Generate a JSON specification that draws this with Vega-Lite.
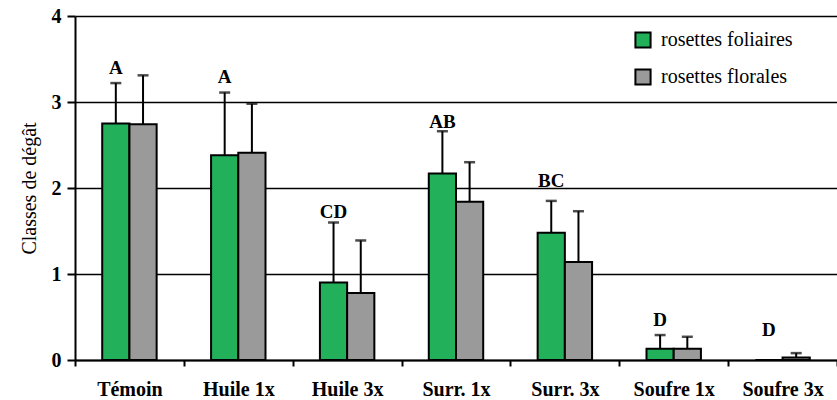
{
  "$schema": "https://vega.github.io/schema/vega-lite/v6.json",
  "width": 762,
  "height": 344,
  "autosize": {"type": "none"},
  "padding": {"left": 75, "top": 16, "right": 0, "bottom": 40},
  "background": "white",
  "config": {
    "font": "Liberation Serif",
    "view": {"stroke": null}
  },
  "datasets": {
    "bars": [
      {"cat": "Témoin", "serie": "rosettes foliaires", "value": 2.75, "err": 3.22},
      {"cat": "Témoin", "serie": "rosettes florales", "value": 2.74, "err": 3.31},
      {"cat": "Huile 1x", "serie": "rosettes foliaires", "value": 2.38, "err": 3.11},
      {"cat": "Huile 1x", "serie": "rosettes florales", "value": 2.41, "err": 2.98},
      {"cat": "Huile 3x", "serie": "rosettes foliaires", "value": 0.90, "err": 1.60},
      {"cat": "Huile 3x", "serie": "rosettes florales", "value": 0.78, "err": 1.39},
      {"cat": "Surr. 1x", "serie": "rosettes foliaires", "value": 2.17, "err": 2.66},
      {"cat": "Surr. 1x", "serie": "rosettes florales", "value": 1.84, "err": 2.30},
      {"cat": "Surr. 3x", "serie": "rosettes foliaires", "value": 1.48, "err": 1.85},
      {"cat": "Surr. 3x", "serie": "rosettes florales", "value": 1.14, "err": 1.73},
      {"cat": "Soufre 1x", "serie": "rosettes foliaires", "value": 0.13, "err": 0.29},
      {"cat": "Soufre 1x", "serie": "rosettes florales", "value": 0.13, "err": 0.27},
      {"cat": "Soufre 3x", "serie": "rosettes foliaires", "value": 0, "err": null},
      {"cat": "Soufre 3x", "serie": "rosettes florales", "value": 0.03, "err": 0.08}
    ],
    "letters": [
      {"cat": "Témoin", "serie": "rosettes foliaires", "pos": 3.40, "letter": "A"},
      {"cat": "Huile 1x", "serie": "rosettes foliaires", "pos": 3.29, "letter": "A"},
      {"cat": "Huile 3x", "serie": "rosettes foliaires", "pos": 1.72, "letter": "CD"},
      {"cat": "Surr. 1x", "serie": "rosettes foliaires", "pos": 2.77, "letter": "AB"},
      {"cat": "Surr. 3x", "serie": "rosettes foliaires", "pos": 2.08, "letter": "BC"},
      {"cat": "Soufre 1x", "serie": "rosettes foliaires", "pos": 0.47, "letter": "D"},
      {"cat": "Soufre 3x", "serie": "rosettes foliaires", "pos": 0.35, "letter": "D"}
    ]
  },
  "encoding": {
    "x": {
      "field": "cat",
      "type": "nominal",
      "sort": ["Témoin", "Huile 1x", "Huile 3x", "Surr. 1x", "Surr. 3x", "Soufre 1x", "Soufre 3x"],
      "scale": {"paddingInner": 0, "paddingOuter": 0},
      "axis": {
        "title": null,
        "labelAngle": 0,
        "labelFont": "Liberation Serif",
        "labelFontWeight": "bold",
        "labelFontSize": 20,
        "labelColor": "black",
        "labelPadding": 13,
        "domainColor": "black",
        "domainWidth": 2,
        "tickColor": "black",
        "tickWidth": 2,
        "tickSize": 6,
        "tickBand": "extent",
        "grid": false
      }
    },
    "xOffset": {
      "field": "serie",
      "type": "nominal",
      "sort": ["rosettes foliaires", "rosettes florales"],
      "scale": {"paddingInner": 0, "paddingOuter": 1.06}
    }
  },
  "layer": [
    {
      "data": {"name": "bars"},
      "mark": {"type": "bar", "stroke": "black", "strokeWidth": 2},
      "encoding": {
        "y": {
          "field": "value",
          "type": "quantitative",
          "scale": {"domain": [0, 4], "nice": false},
          "axis": {
            "title": "Classes de dégât",
            "titleFont": "Liberation Serif",
            "titleFontWeight": "normal",
            "titleFontSize": 20,
            "titleColor": "black",
            "titlePadding": 12,
            "values": [0, 1, 2, 3, 4],
            "format": "d",
            "labelFont": "Liberation Serif",
            "labelFontWeight": "bold",
            "labelFontSize": 20,
            "labelColor": "black",
            "labelPadding": 6,
            "domainColor": "black",
            "domainWidth": 2,
            "tickColor": "black",
            "tickWidth": 2,
            "tickSize": 8,
            "grid": true,
            "gridColor": "black",
            "gridWidth": 1.5,
            "gridOpacity": 1
          }
        },
        "color": {
          "field": "serie",
          "type": "nominal",
          "sort": ["rosettes foliaires", "rosettes florales"],
          "scale": {"domain": ["rosettes foliaires", "rosettes florales"], "range": ["#22b05a", "#9a9a9a"]},
          "legend": {
            "title": null,
            "orient": "none",
            "legendX": 558,
            "legendY": 14,
            "symbolType": "square",
            "symbolSize": 230,
            "symbolStrokeColor": "black",
            "symbolStrokeWidth": 2,
            "symbolOpacity": 1,
            "labelFont": "Liberation Serif",
            "labelFontSize": 20,
            "labelColor": "black",
            "labelOffset": 8,
            "labelLimit": 300,
            "rowPadding": 13
          }
        }
      }
    },
    {
      "data": {"name": "bars"},
      "mark": {"type": "rule", "color": "black", "strokeWidth": 2},
      "encoding": {
        "y": {"field": "value", "type": "quantitative"},
        "y2": {"field": "err"}
      }
    },
    {
      "data": {"name": "bars"},
      "mark": {"type": "tick", "color": "black", "thickness": 2.5, "size": 11, "orient": "horizontal"},
      "encoding": {
        "y": {"field": "err", "type": "quantitative"}
      }
    },
    {
      "data": {"name": "letters"},
      "mark": {"type": "text", "font": "Liberation Serif", "fontWeight": "bold", "fontSize": 19, "color": "black", "baseline": "middle", "align": "center"},
      "encoding": {
        "y": {"field": "pos", "type": "quantitative"},
        "text": {"field": "letter"}
      }
    }
  ]
}
